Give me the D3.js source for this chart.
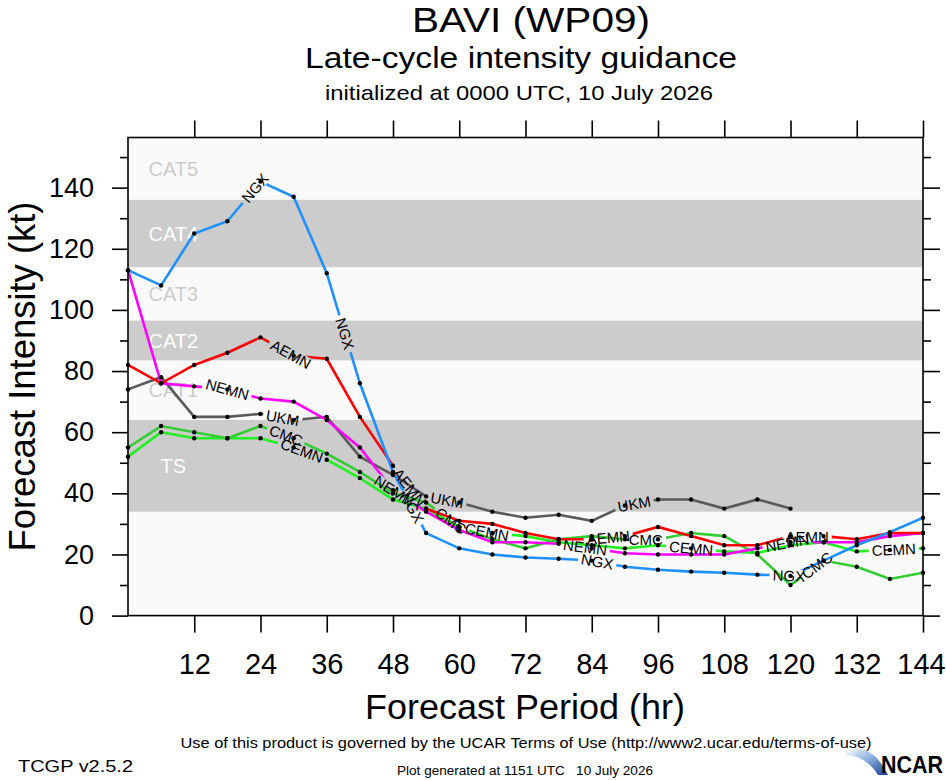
<!DOCTYPE html>
<html>
<head>
<meta charset="utf-8">
<script src="https://cdn.jsdelivr.net/npm/d3@7"></script>
<style>
	body { margin: 0; background: #fff; }
	svg { display: block; }
	text { font-family: "Liberation Sans", Arial, Helvetica, sans-serif; white-space: pre; }
</style>
</head>
<body>
<svg id="chart"></svg>
<script>
// forecast hours and model intensities (kt)
var hours = [0, 6, 12, 18, 24, 30, 36, 42, 48, 54, 60, 66, 72, 78, 84, 90, 96, 102, 108, 114, 120, 126, 132, 138, 144];
var ngx  = [113, 108, 125, 129, 142, 137, 112, 76, 47, 27, 22, 20, 19, 18.6, 18, 16, 15, 14.4, 14, 13.4, 13, 18, 23, 27.3, 32];
var aemn = [82, 76, 82, 86, 91, 85, 84, 65, 49, 35, 31, 30, 27, 25, 25, 26, 29, 26, 23, 23, 26, 26, 25, 27, 27];
var nemn = [113, 76, 75, 74, 71, 70, 64, 55, 41, 34, 28, 24, 24, 23.5, 22, 20.4, 20, 20, 20, 22, 24, 24, 24, 26, 27];
var ukm  = [74, 78, 65, 65, 66, 64, 65, 52, 46, 39, 37, 34, 32, 33, 31, 36, 38, 38, 35, 38, 35];
var cmc  = [55, 62, 60, 58, 62, 58, 53, 47, 40, 37, 29, 25, 22, 25, 26, 25, 25, 27, 26, 20, 10, 18, 16, 12, 14];
var cemn = [52, 60, 58, 58, 58, 55, 51, 45, 38, 35, 29, 27, 26, 24, 23, 22, 23, 22, 21, 20.5, 23, 24, 21, 21.5, 22];

// where the line labels sit (forecast hour)
var ngxLabelHours  = [23, 39.3, 51.5, 85, 119.7];
var aemnLabelHours = [29.5, 51, 87, 123];
var nemnLabelHours = [18, 48.2, 82.8, 119.4];
var ukmLabelHours  = [28, 57.8, 91.7];
var cmcLabelHours  = [28.6, 58.5, 93.8, 124.8];
var cemnLabelHours = [31.5, 65, 102, 138.7];

// Saffir-Simpson bands (kt)
var bandNames = ['TS', 'CAT1', 'CAT2', 'CAT3', 'CAT4', 'CAT5'];
var bandLow   = [34, 64, 83.5, 96.5, 114, 136];
var bandHigh  = [64, 83.5, 96.5, 114, 136, 156.4];

var xTicks = [12, 24, 36, 48, 60, 72, 84, 96, 108, 120, 132, 144];
var yTicks = [0, 20, 40, 60, 80, 100, 120, 140];
var yMinor = [10, 30, 50, 70, 90, 110, 130, 150];

var W = 946, H = 780;
var margin = {top: 137.5, right: 23, bottom: 164.4, left: 128};
var width = W - margin.left - margin.right;
var height = H - margin.top - margin.bottom;

var svg = d3.select('#chart').attr('width', W).attr('height', H);
var defs = svg.append('defs');

var x = d3.scaleLinear().domain([0, 144]).range([0, width]);
var y = d3.scaleLinear().domain([0, 156.4]).range([height, 0]);

var g = svg.append('g')
	.attr('transform', 'translate(' + margin.left + ',' + margin.top + ')');

// background and bands
g.append('rect').attr('width', width).attr('height', height).attr('fill', '#fafafa');
bandNames.forEach(function(name, i) {
	var grey = (i % 2 === 0);
	if (grey) {
		g.append('rect')
			.attr('x', 0).attr('width', width)
			.attr('y', y(bandHigh[i]))
			.attr('height', y(bandLow[i]) - y(bandHigh[i]))
			.attr('fill', '#cccccc');
	}
	g.append('text')
		.attr('x', x(8.2))
		.attr('y', y((bandLow[i] + bandHigh[i]) / 2))
		.attr('dy', '0.36em')
		.attr('text-anchor', 'middle')
		.attr('font-size', 20)
		.attr('fill', grey ? '#ffffff' : '#cccccc')
		.text(name);
});

var series = [
	{name: 'CEMN', color: '#22ee22', values: cemn, labels: cemnLabelHours},
	{name: 'CMC',  color: '#33cc33', values: cmc,  labels: cmcLabelHours},
	{name: 'UKM',  color: '#5a5a5a', values: ukm,  labels: ukmLabelHours},
	{name: 'NEMN', color: '#ff00ff', values: nemn, labels: nemnLabelHours},
	{name: 'AEMN', color: '#ff0000', values: aemn, labels: aemnLabelHours},
	{name: 'NGX',  color: '#1e90ff', values: ngx,  labels: ngxLabelHours}
];

function labelSpot(vals, h) {
	var i = 0;
	while (i < vals.length - 2 && hours[i + 1] <= h) i++;
	var t = (h - hours[i]) / (hours[i + 1] - hours[i]);
	var v = vals[i] + t * (vals[i + 1] - vals[i]);
	var dx = x(hours[i + 1]) - x(hours[i]);
	var dy = y(vals[i + 1]) - y(vals[i]);
	return {px: x(h), py: y(v), angle: Math.atan2(dy, dx) * 180 / Math.PI};
}

var line = d3.line()
	.x(function(d, i) { return x(hours[i]); })
	.y(function(d) { return y(d); });

var lineLayer = g.append('g');
var dotLayer = g.append('g');
var labelLayer = g.append('g');

series.forEach(function(s, k) {
	var mask = defs.append('mask')
		.attr('id', 'gap' + k)
		.attr('maskUnits', 'userSpaceOnUse')
		.attr('x', -50).attr('y', -50).attr('width', width + 100).attr('height', height + 100);
	mask.append('rect')
		.attr('x', -50).attr('y', -50).attr('width', width + 100).attr('height', height + 100)
		.attr('fill', '#fff');

	s.labels.forEach(function(h) {
		var p = labelSpot(s.values, h);
		var t = labelLayer.append('text')
			.attr('transform', 'translate(' + p.px + ',' + p.py + ') rotate(' + p.angle + ')')
			.attr('text-anchor', 'middle')
			.attr('dy', '0.36em')
			.attr('font-size', 15)
			.attr('fill', '#000')
			.text(s.name);
		var len = t.node().getComputedTextLength() + 6;
		mask.append('rect')
			.attr('transform', 'translate(' + p.px + ',' + p.py + ') rotate(' + p.angle + ')')
			.attr('x', -len / 2).attr('y', -6).attr('width', len).attr('height', 12)
			.attr('fill', '#000');
	});

	lineLayer.append('path')
		.datum(s.values)
		.attr('d', line)
		.attr('fill', 'none')
		.attr('stroke', s.color)
		.attr('stroke-width', 2.6)
		.attr('mask', 'url(#gap' + k + ')');

	dotLayer.selectAll(null)
		.data(s.values)
		.join('circle')
			.attr('cx', function(d, i) { return x(hours[i]); })
			.attr('cy', function(d) { return y(d); })
			.attr('r', 2.2)
			.attr('fill', '#000');
});

// frame and axes
g.append('rect').attr('width', width).attr('height', height)
	.attr('fill', 'none').attr('stroke', '#000').attr('stroke-width', 1.6);

function styleAxis(sel) {
	sel.select('.domain').remove();
	sel.selectAll('.tick line').attr('stroke', '#000').attr('stroke-width', 1.6);
}

g.append('g')
	.call(d3.axisLeft(y).tickValues(yTicks).tickSize(16).tickPadding(18).tickFormat(d3.format('d')))
	.call(styleAxis)
	.selectAll('text').attr('font-size', 27).attr('fill', '#000').attr('font-family', '"Liberation Sans", Arial, sans-serif');
g.append('g')
	.call(d3.axisLeft(y).tickValues(yMinor).tickSize(8).tickFormat(''))
	.call(styleAxis);
g.append('g')
	.attr('transform', 'translate(' + width + ',0)')
	.call(d3.axisRight(y).tickValues(yTicks).tickSize(17).tickFormat(''))
	.call(styleAxis);
g.append('g')
	.attr('transform', 'translate(' + width + ',0)')
	.call(d3.axisRight(y).tickValues(yMinor).tickSize(8).tickFormat(''))
	.call(styleAxis);
g.append('g')
	.attr('transform', 'translate(0,' + height + ')')
	.call(d3.axisBottom(x).tickValues(xTicks).tickSize(17).tickPadding(21))
	.call(styleAxis)
	.selectAll('text').attr('font-size', 29).attr('fill', '#000').attr('font-family', '"Liberation Sans", Arial, sans-serif')
	.attr('dx', function(d) { return d === 144 ? -2 : 0; });
g.append('g')
	.call(d3.axisTop(x).tickValues(xTicks).tickSize(17).tickFormat(''))
	.call(styleAxis);

// titles
function addText(txt, cx, by, size, len, opts) {
	opts = opts || {};
	var t = svg.append('text')
		.attr('x', cx).attr('y', by)
		.attr('text-anchor', opts.anchor || 'middle')
		.attr('font-size', size)
		.attr('fill', '#000')
		.text(txt);
	if (len) t.attr('textLength', len).attr('lengthAdjust', 'spacingAndGlyphs');
	if (opts.weight) t.attr('font-weight', opts.weight);
	return t;
}
addText('BAVI (WP09)', 531, 32, 35, 238);
addText('Late-cycle intensity guidance', 521, 68, 30, 432);
addText('initialized at 0000 UTC, 10 July 2026', 519, 100, 21, 388);
addText('Forecast Period (hr)', 525, 719, 35, 320);
svg.append('text')
	.attr('transform', 'translate(35,' + (margin.top + height / 2) + ') rotate(-90)')
	.attr('text-anchor', 'middle')
	.attr('font-size', 37)
	.attr('textLength', 350).attr('lengthAdjust', 'spacingAndGlyphs')
	.text('Forecast Intensity (kt)');
addText('Use of this product is governed by the UCAR Terms of Use (http://www2.ucar.edu/terms-of-use)', 526, 748, 15, 691);
addText('TCGP v2.5.2', 18, 772, 17, 115, {anchor: 'start'});
addText('Plot generated at 1151 UTC   10 July 2026', 525, 775, 12, 256);

// NCAR mark
var grad = defs.append('linearGradient').attr('id', 'swoosh')
	.attr('x1', '0').attr('y1', '0').attr('x2', '1').attr('y2', '1');
grad.append('stop').attr('offset', '0').attr('stop-color', '#ffffff');
grad.append('stop').attr('offset', '0.45').attr('stop-color', '#8fb3e0');
grad.append('stop').attr('offset', '1').attr('stop-color', '#163f8f');
svg.append('path')
	.attr('d', 'M846,750 Q872,742 888,775 L878,775 Q866,756 846,755 Z')
	.attr('fill', 'url(#swoosh)');
addText('NCAR', 881, 773, 23, 62, {anchor: 'start', weight: 'bold'});
</script>
</body>
</html>
